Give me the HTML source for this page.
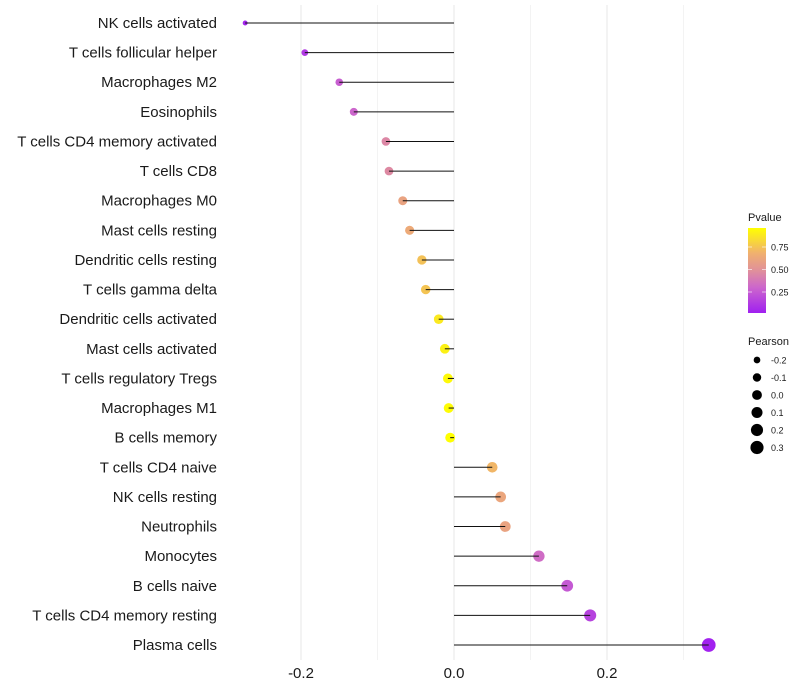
<!DOCTYPE html>
<html><head><meta charset="utf-8"><style>
html,body{margin:0;padding:0;background:#fff;width:800px;height:700px;overflow:hidden}
text{font-family:"Liberation Sans",sans-serif}
</style></head><body>
<svg id="chart" width="800" height="700" xmlns="http://www.w3.org/2000/svg"></svg>
<script>
const categories=["NK cells activated","T cells follicular helper","Macrophages M2","Eosinophils","T cells CD4 memory activated","T cells CD8","Macrophages M0","Mast cells resting","Dendritic cells resting","T cells gamma delta","Dendritic cells activated","Mast cells activated","T cells regulatory  Tregs ","Macrophages M1","B cells memory","T cells CD4 naive","NK cells resting","Neutrophils","Monocytes","B cells naive","T cells CD4 memory resting","Plasma cells"];
const pearson=[-0.273,-0.195,-0.150,-0.131,-0.089,-0.085,-0.067,-0.058,-0.042,-0.037,-0.020,-0.012,-0.008,-0.007,-0.005,0.050,0.061,0.067,0.111,0.148,0.178,0.333];
const pvalue=[0.04,0.12,0.27,0.30,0.45,0.46,0.60,0.64,0.74,0.75,0.88,0.91,0.94,0.95,0.96,0.70,0.62,0.60,0.33,0.25,0.16,0.03];
const xTicks=[-0.2,0.0,0.2];
const xTickLabels=["-0.2","0.0","0.2"];
const xMinor=[-0.1,0.1,0.3];
const pTicks=[0.25,0.5,0.75];
const pTickLabels=["0.25","0.50","0.75"];
const sizeLegend=[-0.2,-0.1,0.0,0.1,0.2,0.3];
const sizeLegendLabels=["-0.2","-0.1","0.0","0.1","0.2","0.3"];

const NS="http://www.w3.org/2000/svg";
const svg=document.getElementById('chart');
function mk(tag,attrs,parent){const e=document.createElementNS(NS,tag);for(const k in attrs)e.setAttribute(k,attrs[k]);(parent||svg).appendChild(e);return e;}
const x=v=>454+v*765;
const y=i=>23+i*(622/21);
const rad=v=>Math.sqrt(Math.max(3,11+68*(v+0.2)));
const stops=[[0,[160,32,240]],[0.3,[204,102,204]],[0.5,[224,144,154]],[0.7,[240,176,112]],[1,[255,255,0]]];
function col(p){let t=(p-0.02)/(0.96-0.02);t=Math.max(0,Math.min(1,t));
 for(let i=1;i<stops.length;i++){if(t<=stops[i][0]){const a=stops[i-1],b=stops[i];const f=(t-a[0])/(b[0]-a[0]);
 const c=a[1].map((v,j)=>Math.round(v+(b[1][j]-v)*f));return `rgb(${c.join(',')})`;}}return 'rgb(255,255,0)';}

// grid
xMinor.forEach(v=>{const l=mk('line',{x1:x(v),x2:x(v),y1:5,y2:660,stroke:'#f3f3f3','stroke-width':1});

});
xTicks.forEach((v,i)=>{const l=mk('line',{x1:x(v),x2:x(v),y1:5,y2:660,stroke:'#ebebeb','stroke-width':1.2});


const t=mk('text',{x:x(v),y:678,'text-anchor':'middle','font-size':15,fill:'#1a1a1a'});t.textContent=xTickLabels[i];

});

categories.forEach((c,i)=>{
 const t=mk('text',{x:217,y:y(i)+5,'text-anchor':'end','font-size':15,fill:'#1a1a1a'});t.textContent=c;
 
 
 const p=mk('circle',{cx:x(pearson[i]),cy:y(i),r:rad(pearson[i]),fill:col(pvalue[i])});
 
 
 const s=mk('line',{x1:x(0),x2:x(pearson[i]),y1:y(i),y2:y(i),stroke:'#111','stroke-width':1});
 
 
});

// colour legend
const defs=mk('defs',{});
const g=mk('linearGradient',{id:'pg',x1:0,y1:1,x2:0,y2:0},defs);
for(let k=0;k<=20;k++){const p=0.02+k/20*0.94;mk('stop',{offset:k/20,'stop-color':col(p)},g);}
const lt=mk('text',{x:748,y:221,'font-size':11,fill:'#1a1a1a'});lt.textContent='Pvalue';


const bar=mk('rect',{x:748,y:228,width:18,height:85,fill:'url(#pg)'});


const py=p=>314.5-p*90;
pTicks.forEach((p,i)=>{mk('line',{x1:748,x2:752,y1:py(p),y2:py(p),stroke:'#fff','stroke-opacity':0.6});mk('line',{x1:762,x2:766,y1:py(p),y2:py(p),stroke:'#fff','stroke-opacity':0.6});
 const t=mk('text',{x:771,y:py(p)+3.5,'font-size':9,fill:'#1a1a1a'});t.textContent=pTickLabels[i];
 
 });
const st=mk('text',{x:748,y:345,'font-size':11,fill:'#1a1a1a'});st.textContent='Pearson';


sizeLegend.forEach((v,i)=>{const cy=360+i*17.5;
 const c=mk('circle',{cx:757,cy:cy,r:rad(v)*0.95+0.2,fill:'#000'});
 
 
 const t=mk('text',{x:771,y:cy+3.5,'font-size':9,fill:'#1a1a1a'});t.textContent=sizeLegendLabels[i];
 
 });
</script>
</body></html>
